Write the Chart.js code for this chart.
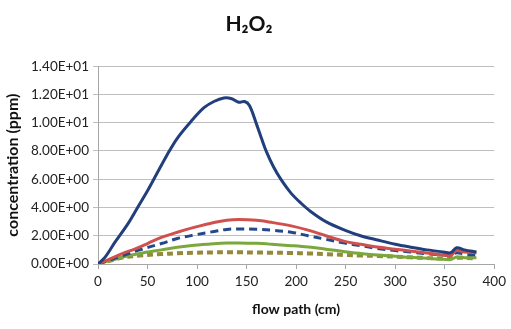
<!DOCTYPE html>
<html>
<head>
<meta charset="utf-8">
<script src="https://cdn.jsdelivr.net/npm/chart.js@4/dist/chart.umd.min.js"></script>
<style>
html,body{margin:0;padding:0;background:#fff;}
#wrap{width:511px;height:329px;position:relative;}
</style>
</head>
<body>
<div id="wrap"><canvas id="c" width="511" height="329"></canvas></div>
<script>
// ---- data ----
const titleText = "H₂O₂";
const xAxisTitle = "flow path (cm)";
const yAxisTitle = "concentration (ppm)";

const blueSolidX = [0,7,17,30,40,50,60,70,80,94,107,117,127,135,142,148,153,160,165,170,177,185,195,205,215,230,249,265,282,300,315,332,349,356,362,370,382];
const blueSolidY = [0,0.47,1.53,2.82,4.0,5.18,6.47,7.75,8.9,10.1,11.06,11.5,11.75,11.7,11.45,11.5,11.2,9.9,8.9,7.95,6.9,5.95,5.0,4.3,3.7,3.0,2.4,2.0,1.7,1.4,1.2,1.0,0.85,0.8,1.15,1.0,0.85];

const redX = [0,10,25,37,50,64,80,97,117,130,142,160,175,195,212,230,249,265,282,300,315,332,349,356,362,370,382];
const redY = [0,0.3,0.75,1.06,1.45,1.88,2.25,2.59,2.94,3.1,3.15,3.1,2.95,2.7,2.4,2.0,1.6,1.4,1.2,1.05,0.92,0.78,0.64,0.6,0.95,0.85,0.8];

const blueDashX = [0,25,42,64,80,97,117,130,142,160,175,195,212,230,249,265,282,300,315,332,349,356,362,370,382];
const blueDashY = [0,0.6,1.0,1.45,1.8,2.05,2.3,2.45,2.48,2.46,2.4,2.25,2.0,1.75,1.48,1.3,1.1,0.95,0.85,0.72,0.64,0.6,0.8,0.7,0.64];

const greenX = [0,25,42,64,80,97,117,130,142,160,175,195,212,230,249,265,282,300,315,332,349,356,362,370,382];
const greenY = [0,0.5,0.75,1.0,1.18,1.32,1.43,1.48,1.49,1.46,1.4,1.3,1.2,1.05,0.87,0.75,0.64,0.55,0.47,0.4,0.33,0.32,0.5,0.45,0.45];

const oliveX = [0,25,42,64,80,97,117,130,142,160,175,195,212,230,249,265,282,300,315,332,349,362,382];
const oliveY = [0,0.45,0.6,0.7,0.76,0.8,0.82,0.83,0.83,0.81,0.8,0.78,0.75,0.7,0.64,0.6,0.57,0.52,0.47,0.43,0.4,0.45,0.4];

const xMin = 0, xMax = 400, xStep = 50;
const yMin = 0, yMax = 14, yStep = 2;

function pts(xs, ys){ return xs.map((x,i)=>({x:x, y:ys[i]})); }

function sci(v){
  if (v === 0) return "0.00E+00";
  const e = Math.floor(Math.log10(Math.abs(v)) + 1e-9);
  const m = v / Math.pow(10, e);
  const es = (e < 0 ? "-" : "+") + String(Math.abs(e)).padStart(2, "0");
  return m.toFixed(2) + "E" + es;
}

const FONT = "Lato, 'Open Sans', 'Liberation Sans', sans-serif";

const ds = (label, data, color, width, dash) => ({
  label, data, borderColor: color, backgroundColor: color,
  borderWidth: width, borderDash: dash || [], pointRadius: 0,
  showLine: true, fill: false, tension: 0.35,
  borderCapStyle: 'butt'
});

new Chart(document.getElementById('c'), {
  type: 'scatter',
  data: {
    datasets: [
      ds('blue', pts(blueSolidX, blueSolidY), '#203f7c', 3),
      ds('red', pts(redX, redY), '#d0504d', 3),
      ds('blue dashed', pts(blueDashX, blueDashY), '#23498a', 3, [8,5]),
      ds('green', pts(greenX, greenY), '#7aa83c', 3),
      ds('olive dashed', pts(oliveX, oliveY), '#958a3c', 4, [6,4])
    ]
  },
  options: {
    responsive: false,
    animation: false,
    layout: { padding: { left: 0, right: 13, top: 0, bottom: 0 } },
    plugins: {
      legend: { display: false },
      tooltip: { enabled: false },
      title: {
        display: true, text: titleText, color: '#111',
        font: { family: FONT, size: 21, weight: 'bold', lineHeight: 1.2 },
        padding: { top: 12, bottom: 29 }
      }
    },
    scales: {
      x: {
        type: 'linear', min: xMin, max: xMax,
        ticks: { stepSize: xStep, color: '#222', font: { family: FONT, size: 13.5 }, padding: 5, maxRotation: 0 },
        grid: { display: true, drawOnChartArea: false, drawTicks: true, tickLength: 5, color: '#a6a6a6' },
        border: { display: true, color: '#a6a6a6' },
        title: { display: true, text: xAxisTitle, color: '#111', font: { family: FONT, size: 14, weight: 'bold', lineHeight: 1.2 }, padding: { top: 4, bottom: 11 } },
        afterFit: (s) => { s.height = 65; }
      },
      y: {
        type: 'linear', min: yMin, max: yMax,
        ticks: { stepSize: yStep, color: '#222', font: { family: FONT, size: 13.5 }, padding: 4, callback: (v) => sci(v) },
        grid: { display: true, drawTicks: true, tickLength: 5, color: '#bfbfbf' },
        border: { display: true, color: '#a6a6a6' },
        title: { display: true, text: yAxisTitle, color: '#111', font: { family: FONT, size: 16, weight: 'bold', lineHeight: 1.2 }, padding: { top: 3, bottom: 4 } },
        afterFit: (s) => { s.width = 98; }
      }
    }
  }
});
</script>
</body>
</html>
